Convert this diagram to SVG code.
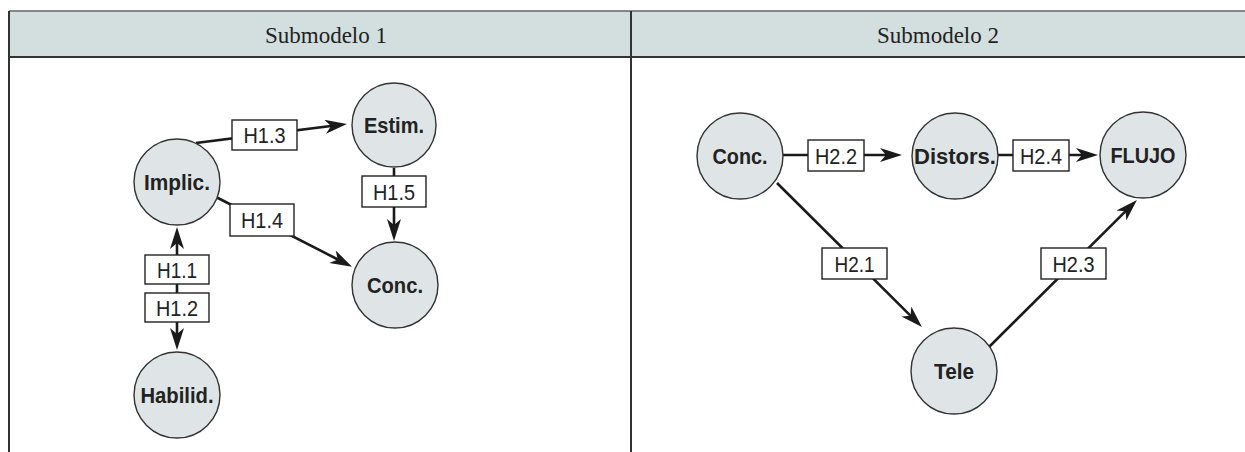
<svg xmlns="http://www.w3.org/2000/svg" width="1245" height="452" viewBox="0 0 1245 452">
  <style>
    .hdr { fill: #d3dfdf; }
    .rule { stroke: #333; stroke-width: 2; fill: none; }
    .rule-top { stroke: #666; stroke-width: 1.5; fill: none; }
    .title { font-family: "Liberation Serif", "Times New Roman", serif; font-size: 24px; fill: #222; text-anchor: middle; }
    .node circle { fill: #dfe5e6; stroke: #333; stroke-width: 1.4; }
    .node text { font-family: "Liberation Sans", Arial, sans-serif; font-weight: bold; font-size: 22px; fill: #222; text-anchor: middle; }
    .edge { stroke: #1a1a1a; stroke-width: 2.6; fill: none; }
    .arrow { marker-end: url(#head); }
    .tag rect { fill: #fff; stroke: #222; stroke-width: 1.4; }
    .tag text { font-family: "Liberation Sans", Arial, sans-serif; font-size: 22px; fill: #222; text-anchor: middle; }
  </style>
  <defs>
    <!-- filled, slightly notched arrowhead; the line stops 6px short of the tip -->
    <marker id="head" markerUnits="userSpaceOnUse" markerWidth="24" markerHeight="16" refX="16" refY="7" orient="auto">
      <path d="M0,0 L22,7 L0,14 L6,7 z" fill="#1a1a1a"/>
    </marker>
  </defs>

  <rect width="1245" height="452" fill="#fff"/>

  <!-- table frame -->
  <g id="table">
    <rect class="hdr" x="9" y="11" width="1240" height="46"/>
    <line class="rule-top" x1="9" y1="11" x2="1245" y2="11"/>
    <line class="rule" x1="9" y1="57" x2="1245" y2="57"/>
    <line class="rule" x1="9" y1="11" x2="9" y2="452"/>
    <line class="rule" x1="631" y1="11" x2="631" y2="452"/>
    <text class="title" x="326" y="43" textLength="122" lengthAdjust="spacingAndGlyphs">Submodelo 1</text>
    <text class="title" x="938" y="43" textLength="122" lengthAdjust="spacingAndGlyphs">Submodelo 2</text>
  </g>

  <!-- connectors -->
  <g id="connectors">
    <line class="edge arrow" x1="196" y1="143" x2="341" y2="124.7"/>
    <line class="edge arrow" x1="216" y1="197" x2="346.7" y2="264"/>
    <line class="edge arrow" x1="394" y1="168" x2="394" y2="235"/>
    <line class="edge arrow" x1="177" y1="288" x2="177" y2="233"/>
    <line class="edge arrow" x1="177" y1="288" x2="177" y2="344"/>
    <line class="edge arrow" x1="783" y1="155" x2="896" y2="155"/>
    <line class="edge arrow" x1="998" y1="155" x2="1092" y2="155"/>
    <line class="edge arrow" x1="777" y1="183" x2="917.7" y2="322.8"/>
    <line class="edge arrow" x1="989" y1="347" x2="1132.7" y2="204.2"/>

    <g class="tag"><rect x="232" y="120" width="65" height="30"/><text x="264.5" y="143" textLength="42" lengthAdjust="spacingAndGlyphs">H1.3</text></g>
    <g class="tag"><rect x="362" y="176" width="64" height="31"/><text x="394" y="199.5" textLength="42" lengthAdjust="spacingAndGlyphs">H1.5</text></g>
    <g class="tag"><rect x="230" y="204" width="64" height="32"/><text x="262" y="228" textLength="42" lengthAdjust="spacingAndGlyphs">H1.4</text></g>
    <g class="tag"><rect x="145" y="255" width="64" height="29"/><text x="177" y="277.5" textLength="40" lengthAdjust="spacingAndGlyphs">H1.1</text></g>
    <g class="tag"><rect x="145" y="293" width="64" height="29"/><text x="177" y="315.5" textLength="42" lengthAdjust="spacingAndGlyphs">H1.2</text></g>
    <g class="tag"><rect x="808" y="140" width="56" height="31"/><text x="836" y="163.5" textLength="42" lengthAdjust="spacingAndGlyphs">H2.2</text></g>
    <g class="tag"><rect x="1013" y="140" width="56" height="31"/><text x="1041" y="163.5" textLength="42" lengthAdjust="spacingAndGlyphs">H2.4</text></g>
    <g class="tag"><rect x="822" y="248" width="65" height="31"/><text x="854.5" y="271.5" textLength="40" lengthAdjust="spacingAndGlyphs">H2.1</text></g>
    <g class="tag"><rect x="1041" y="248" width="65" height="31"/><text x="1073.5" y="271.5" textLength="42" lengthAdjust="spacingAndGlyphs">H2.3</text></g>
  </g>

  <!-- Submodelo 1 nodes -->
  <g id="n-implic" class="node"><circle cx="177" cy="182" r="43"/><text x="177" y="190" textLength="66" lengthAdjust="spacingAndGlyphs">Implic.</text></g>
  <g id="n-estim" class="node"><circle cx="394" cy="125" r="42"/><text x="394" y="133" textLength="60" lengthAdjust="spacingAndGlyphs">Estim.</text></g>
  <g id="n-conc1" class="node"><circle cx="395" cy="285" r="43"/><text x="395" y="293" textLength="56" lengthAdjust="spacingAndGlyphs">Conc.</text></g>
  <g id="n-habilid" class="node"><circle cx="177" cy="395" r="43"/><text x="177" y="403" textLength="73" lengthAdjust="spacingAndGlyphs">Habilid.</text></g>

  <!-- Submodelo 2 nodes -->
  <g id="n-conc2" class="node"><circle cx="740" cy="156" r="43"/><text x="740" y="164" textLength="55" lengthAdjust="spacingAndGlyphs">Conc.</text></g>
  <g id="n-distors" class="node"><circle cx="955" cy="156" r="43"/><text x="955" y="164" textLength="82" lengthAdjust="spacingAndGlyphs">Distors.</text></g>
  <g id="n-flujo" class="node"><circle cx="1143" cy="155" r="43"/><text x="1143" y="163" textLength="65" lengthAdjust="spacingAndGlyphs">FLUJO</text></g>
  <g id="n-tele" class="node"><circle cx="954" cy="371" r="43"/><text x="954" y="379" textLength="40" lengthAdjust="spacingAndGlyphs">Tele</text></g>
</svg>
